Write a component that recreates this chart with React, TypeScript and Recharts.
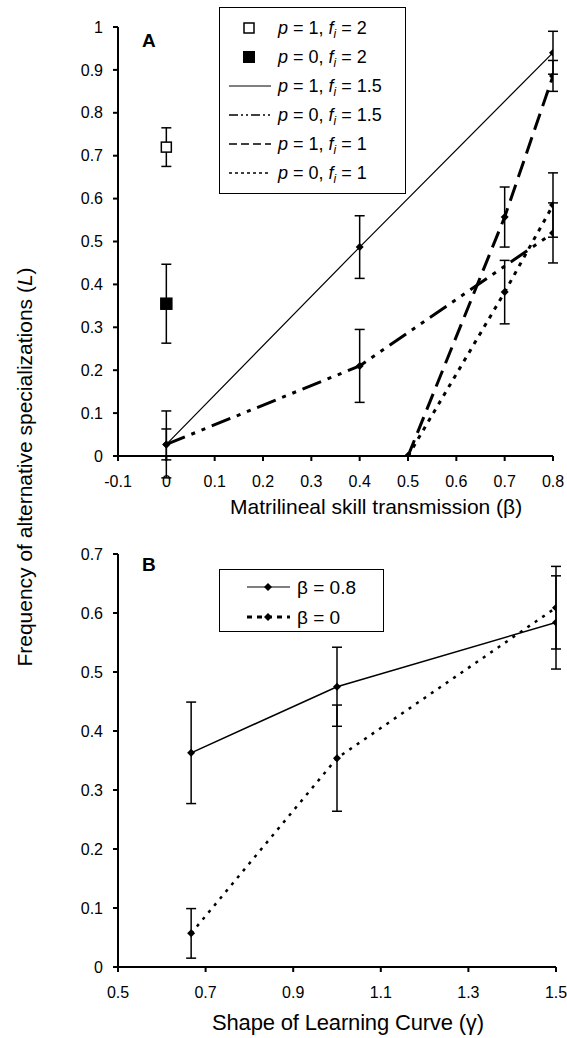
import { ComposedChart, Line, Scatter, XAxis, YAxis, ErrorBar } from 'recharts'

const FONT = '"Liberation Sans", Arial, Helvetica, sans-serif'

// ---- panel A: matrilineal skill transmission (beta) ----
const betaTicks = [-0.1, 0, 0.1, 0.2, 0.3, 0.4, 0.5, 0.6, 0.7, 0.8]
const freqTicksA = [0, 0.1, 0.2, 0.3, 0.4, 0.5, 0.6, 0.7, 0.8, 0.9, 1]

const p1f2Beta = [0]
const p1f2L = [0.72]
const p1f2Err = [0.045]

const p0f2Beta = [0]
const p0f2L = [0.355]
const p0f2Err = [0.092]

const p1f15Beta = [0, 0.4, 0.8]
const p1f15L = [0.027, 0.487, 0.94]
const p1f15Err = [0.078, 0.073, 0.05]

const p0f15Beta = [0, 0.4, 0.8]
const p0f15L = [0.027, 0.21, 0.52]
const p0f15Err = [0.036, 0.085, 0.07]

const p1f1Beta = [0.5, 0.7, 0.8]
const p1f1L = [0, 0.557, 0.886]
const p1f1Err = [0, 0.07, 0.036]

const p0f1Beta = [0.5, 0.7, 0.8]
const p0f1L = [0, 0.382, 0.585]
const p0f1Err = [0, 0.074, 0.075]

// ---- panel B: shape of learning curve (gamma) ----
const gammaTicks = [0.5, 0.7, 0.9, 1.1, 1.3, 1.5]
const freqTicksB = [0, 0.1, 0.2, 0.3, 0.4, 0.5, 0.6, 0.7]
const gamma = [0.667, 1.0, 1.5]
const b08L = [0.363, 0.475, 0.584]
const b08Err = [0.086, 0.067, 0.079]
const b0L = [0.057, 0.354, 0.609]
const b0Err = [0.042, 0.09, 0.07]

const rows = (xs: number[], ys: number[], errs: number[]) =>
    xs.map((x, i) => ({ x, y: ys[i], err: errs[i] }))

const axisLine = { stroke: '#000', strokeWidth: 2 }
const tickStyle = { fill: '#000', fontSize: 16, fontFamily: FONT }

const Diamond = (props: any) => {
    const { cx, cy, index } = props
    if (cx == null || cy == null) return <g key={index} />
    const r = 4
    return (
        <polygon
            key={index}
            points={`${cx},${cy - r} ${cx + r},${cy} ${cx},${cy + r} ${cx - r},${cy}`}
            fill="#000"
        />
    )
}

const Square = (filled: boolean) => (props: any) => {
    const { cx, cy } = props
    const s = filled ? 11 : 10
    return (
        <rect
            x={cx - s / 2}
            y={cy - s / 2}
            width={s}
            height={s}
            fill={filled ? '#000' : '#fff'}
            stroke="#000"
            strokeWidth={1.5}
        />
    )
}

const fi = (rest: string) => (
    <>
        <tspan fontStyle="italic">f</tspan>
        <tspan fontStyle="italic" fontSize={12} dy={4}>i</tspan>
        <tspan dy={-4}>{rest}</tspan>
    </>
)

function LegendA() {
    const rowY = (i: number) => 21 + 29 * i
    const labels = ['1', '0', '1', '0', '1', '0']
    const fis = [' = 2', ' = 2', ' = 1.5', ' = 1.5', ' = 1', ' = 1']
    return (
        <svg width={187} height={187} style={{ position: 'absolute', left: 219, top: 7 }}>
            <rect x={0.5} y={0.5} width={186} height={186} fill="#fff" stroke="#000" strokeWidth={1} />
            <rect x={25} y={rowY(0) - 5} width={10} height={10} fill="#fff" stroke="#000" strokeWidth={1.5} />
            <rect x={24} y={rowY(1) - 6} width={12} height={12} fill="#000" />
            <line x1={10} x2={52} y1={rowY(2)} y2={rowY(2)} stroke="#000" strokeWidth={1} />
            <line x1={10} x2={52} y1={rowY(3)} y2={rowY(3)} stroke="#000" strokeWidth={1.5} strokeDasharray="9 3 2 3 2 3" />
            <line x1={10} x2={52} y1={rowY(4)} y2={rowY(4)} stroke="#000" strokeWidth={1.5} strokeDasharray="8 4" />
            <line x1={10} x2={52} y1={rowY(5)} y2={rowY(5)} stroke="#000" strokeWidth={1.5} strokeDasharray="3 3" />
            {labels.map((p, i) => (
                <text key={i} x={59} y={rowY(i) + 6} fontSize={18} fontFamily={FONT} fill="#000">
                    <tspan fontStyle="italic">p</tspan>
                    {` = ${p}, `}
                    {fi(fis[i])}
                </text>
            ))}
        </svg>
    )
}

function LegendB() {
    return (
        <svg width={165} height={63} style={{ position: 'absolute', left: 219, top: 569 }}>
            <rect x={0.5} y={0.5} width={164} height={62} fill="#fff" stroke="#000" strokeWidth={1} />
            <line x1={28} x2={71} y1={18} y2={18} stroke="#000" strokeWidth={1.2} />
            <polygon points="49,14 53,18 49,22 45,18" fill="#000" />
            <text x={78} y={25} fontSize={19} fontFamily={FONT} fill="#000">β = 0.8</text>
            <line x1={28} x2={71} y1={48} y2={48} stroke="#000" strokeWidth={3} strokeDasharray="5 5" />
            <polygon points="49,44 53,48 49,52 45,48" fill="#000" />
            <text x={78} y={55} fontSize={19} fontFamily={FONT} fill="#000">β = 0</text>
        </svg>
    )
}

function PanelA() {
    return (
        <div style={{ position: 'absolute', left: 0, top: 0 }}>
            <ComposedChart width={567} height={530} margin={{ top: 27, right: 14, bottom: 30, left: 0 }}>
                <XAxis
                    type="number"
                    dataKey="x"
                    domain={[-0.1, 0.8]}
                    ticks={betaTicks}
                    allowDataOverflow
                    axisLine={axisLine}
                    tickLine={axisLine}
                    tickSize={5}
                    tickMargin={15}
                    tick={tickStyle}
                    height={44}
                />
                <YAxis
                    type="number"
                    domain={[0, 1]}
                    ticks={freqTicksA}
                    allowDataOverflow
                    axisLine={axisLine}
                    tickLine={axisLine}
                    tickSize={5}
                    tickMargin={10}
                    tick={tickStyle}
                    width={118}
                />
                <Line data={rows(p1f15Beta, p1f15L, p1f15Err)} dataKey="y" stroke="#000" strokeWidth={1.2} dot={Diamond} isAnimationActive={false}>
                    <ErrorBar dataKey="err" width={5} stroke="#000" strokeWidth={1.5} />
                </Line>
                <Line data={rows(p0f15Beta, p0f15L, p0f15Err)} dataKey="y" stroke="#000" strokeWidth={3} strokeDasharray="20 7 4 7 4 7" dot={Diamond} isAnimationActive={false}>
                    <ErrorBar dataKey="err" width={5} stroke="#000" strokeWidth={1.5} />
                </Line>
                <Line data={rows(p1f1Beta, p1f1L, p1f1Err)} dataKey="y" stroke="#000" strokeWidth={3} strokeDasharray="17 8" dot={Diamond} isAnimationActive={false}>
                    <ErrorBar dataKey="err" width={5} stroke="#000" strokeWidth={1.5} />
                </Line>
                <Line data={rows(p0f1Beta, p0f1L, p0f1Err)} dataKey="y" stroke="#000" strokeWidth={3} strokeDasharray="4 6" dot={Diamond} isAnimationActive={false}>
                    <ErrorBar dataKey="err" width={5} stroke="#000" strokeWidth={1.5} />
                </Line>
                <Scatter data={rows(p1f2Beta, p1f2L, p1f2Err)} dataKey="y" shape={Square(false)} isAnimationActive={false}>
                    <ErrorBar dataKey="err" direction="y" width={5} stroke="#000" strokeWidth={1.5} />
                </Scatter>
                <Scatter data={rows(p0f2Beta, p0f2L, p0f2Err)} dataKey="y" shape={Square(true)} isAnimationActive={false}>
                    <ErrorBar dataKey="err" direction="y" width={5} stroke="#000" strokeWidth={1.5} />
                </Scatter>
            </ComposedChart>
        </div>
    )
}

function PanelB() {
    return (
        <div style={{ position: 'absolute', left: 0, top: 520 }}>
            <ComposedChart width={567} height={518} margin={{ top: 34, right: 11, bottom: 0, left: 0 }}>
                <XAxis
                    type="number"
                    dataKey="x"
                    domain={[0.5, 1.5]}
                    ticks={gammaTicks}
                    allowDataOverflow
                    axisLine={axisLine}
                    tickLine={axisLine}
                    tickSize={5}
                    tickMargin={15}
                    tick={tickStyle}
                    height={71}
                />
                <YAxis
                    type="number"
                    domain={[0, 0.7]}
                    ticks={freqTicksB}
                    allowDataOverflow
                    axisLine={axisLine}
                    tickLine={axisLine}
                    tickSize={5}
                    tickMargin={10}
                    tick={tickStyle}
                    width={118}
                />
                <Line data={rows(gamma, b08L, b08Err)} dataKey="y" stroke="#000" strokeWidth={1.5} dot={Diamond} isAnimationActive={false}>
                    <ErrorBar dataKey="err" width={5} stroke="#000" strokeWidth={1.5} />
                </Line>
                <Line data={rows(gamma, b0L, b0Err)} dataKey="y" stroke="#000" strokeWidth={2.5} strokeDasharray="3 6" dot={Diamond} isAnimationActive={false}>
                    <ErrorBar dataKey="err" width={5} stroke="#000" strokeWidth={1.5} />
                </Line>
            </ComposedChart>
        </div>
    )
}

export default function App() {
    return (
        <div style={{ position: 'absolute', left: 0, top: 0, width: 567, height: 1038, background: '#fff', fontFamily: FONT }}>
            <PanelA />
            <PanelB />
            <svg width={567} height={1038} style={{ position: 'absolute', left: 0, top: 0, pointerEvents: 'none' }}>
                <text x={142} y={47} fontSize={19} fontWeight="bold" fontFamily={FONT} fill="#000">A</text>
                <text x={142} y={571} fontSize={19} fontWeight="bold" fontFamily={FONT} fill="#000">B</text>
                <text x={230} y={514} fontSize={21} fontFamily={FONT} fill="#000">Matrilineal skill transmission (β)</text>
                <text x={212} y={1030} fontSize={22} fontFamily={FONT} fill="#000" textLength={272} lengthAdjust="spacing">Shape of Learning Curve (γ)</text>
                <text x={32} y={467} fontSize={21} fontFamily={FONT} fill="#000" textAnchor="middle" transform="rotate(-90 32 467)">
                    Frequency of alternative specializations (<tspan fontStyle="italic">L</tspan>)
                </text>
            </svg>
            <LegendA />
            <LegendB />
        </div>
    )
}
